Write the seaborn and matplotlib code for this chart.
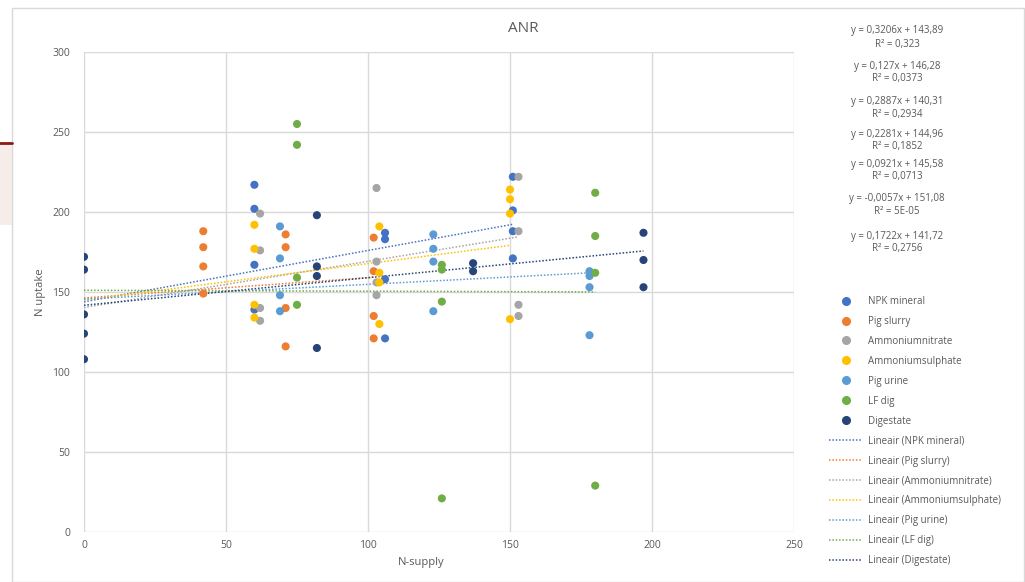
import numpy as np
import pandas as pd
import matplotlib
matplotlib.use("Agg")
import matplotlib.pyplot as plt
import matplotlib.patches as mpatches
from matplotlib.lines import Line2D
import seaborn as sns

series = ["NPK mineral", "Pig slurry", "Ammoniumnitrate", "Ammoniumsulphate",
          "Pig urine", "LF dig", "Digestate"]
colors = ["#4472C4", "#ED7D31", "#A5A5A5", "#FFC000", "#5B9BD5", "#70AD47", "#264478"]

npk_x = [60, 60, 60, 60, 106, 106, 106, 106, 151, 151, 151, 151]
npk_y = [217, 202, 167, 139, 187, 183, 158, 121, 222, 201, 188, 171]
slurry_x = [42, 42, 42, 42, 71, 71, 71, 71, 102, 102, 102, 102]
slurry_y = [188, 178, 166, 149, 186, 178, 140, 116, 184, 163, 135, 121]
an_x = [62, 62, 62, 62, 103, 103, 103, 103, 153, 153, 153, 153]
an_y = [199, 176, 140, 132, 215, 169, 156, 148, 222, 188, 142, 135]
as_x = [60, 60, 60, 60, 104, 104, 104, 104, 150, 150, 150, 150]
as_y = [192, 177, 142, 134, 191, 162, 156, 130, 214, 208, 199, 133]
urine_x = [69, 69, 69, 69, 123, 123, 123, 123, 178, 178, 178, 178]
urine_y = [191, 171, 148, 138, 186, 177, 169, 138, 163, 160, 153, 123]
lf_x = [75, 75, 75, 75, 126, 126, 126, 126, 180, 180, 180, 180]
lf_y = [255, 242, 159, 142, 167, 164, 144, 21, 212, 185, 162, 29]
dig_x = [0, 0, 0, 0, 0, 82, 82, 82, 82, 137, 137, 197, 197, 197]
dig_y = [172, 164, 136, 124, 108, 198, 166, 160, 115, 168, 163, 187, 170, 153]

# trendlijnen uit Excel
slopes = [0.3206, 0.127, 0.2887, 0.2281, 0.0921, -0.0057, 0.1722]
intercepts = [143.89, 146.28, 140.31, 144.96, 145.58, 151.08, 141.72]
r2_labels = ["0,323", "0,0373", "0,2934", "0,1852", "0,0713", "5E-05", "0,2756"]

xs = [npk_x, slurry_x, an_x, as_x, urine_x, lf_x, dig_x]
ys = [npk_y, slurry_y, an_y, as_y, urine_y, lf_y, dig_y]

df = pd.concat([pd.DataFrame({"x": x, "y": y, "serie": s})
                for x, y, s in zip(xs, ys, series)], ignore_index=True)

sns.set_style("white")
plt.rcParams["font.family"] = ["Open Sans", "DejaVu Sans"]
txt = "#595959"

fig = plt.figure(figsize=(10.25, 5.82), dpi=100)
ax = fig.add_axes([84 / 1025, 1 - 532 / 582, 710 / 1025, 480 / 582])

# trendlijnen van 0 tot max x
for i, s in enumerate(series):
    xmax = max(xs[i])
    tl = pd.DataFrame({"x": [0, xmax],
                       "y": [intercepts[i], intercepts[i] + slopes[i] * xmax]})
    sns.lineplot(data=tl, x="x", y="y", ax=ax, color=colors[i], lw=1.1,
                 linestyle=(0, (1, 1.2)), zorder=2)

sns.scatterplot(data=df, x="x", y="y", hue="serie", palette=colors, s=34,
                edgecolor="none", ax=ax, legend=False, zorder=3)

ax.set_xlim(0, 250)
ax.set_ylim(0, 300)
ax.set_xticks(range(0, 251, 50))
ax.set_yticks(range(0, 301, 50))
ax.grid(True, color="#D9D9D9", lw=1)
for sp in ax.spines.values():
    sp.set_visible(False)
ax.tick_params(length=0, labelsize=7.5, colors=txt)
ax.tick_params(axis="y", pad=10)
ax.tick_params(axis="x", pad=6)
ax.set_xlabel("")
ax.set_ylabel("")

fig.text(523 / 1025, 1 - 28 / 582, "ANR", ha="center", va="center", fontsize=11, color=txt)
fig.text(421 / 1025, 1 - 563 / 582, "N-supply", ha="center", va="center", fontsize=8, color=txt)
fig.text(40 / 1025, 1 - 292 / 582, "N uptake", ha="center", va="center", fontsize=8,
         color=txt, rotation=90)

# vergelijkingen
eq_y = [31, 66, 101, 134, 164, 199, 236]
for i in range(len(series)):
    eq = "y = " + str(slopes[i]).replace(".", ",") + "x + " + str(intercepts[i]).replace(".", ",")
    fig.text(897 / 1025, 1 - eq_y[i] / 582, eq, ha="center", va="center", fontsize=7, color=txt)
    fig.text(897 / 1025, 1 - (eq_y[i] + 13) / 582, "R² = " + r2_labels[i], ha="center",
             va="center", fontsize=7, color=txt)

# legenda
handles = []
labels = []
for s, c in zip(series, colors):
    handles.append(Line2D([], [], marker="o", ls="none", color=c, markersize=5.5))
    labels.append(s)
for s, c in zip(series, colors):
    handles.append(Line2D([], [], ls=(0, (1, 1.2)), color=c, lw=1.1))
    labels.append("Lineair (" + s + ")")
leg = fig.legend(handles, labels, loc="upper left", bbox_to_anchor=(829 / 1025, 1 - 296 / 582),
                 frameon=False, fontsize=7, labelspacing=0.92, handlelength=3.4,
                 handletextpad=0.6, borderpad=0, borderaxespad=0)
for t in leg.get_texts():
    t.set_color(txt)

# kader en restje van de dia
fig.add_artist(mpatches.Rectangle((12 / 1025, 0), 1012 / 1025, 1 - 8 / 582,
                                  transform=fig.transFigure, fill=False,
                                  edgecolor="#D9D9D9", lw=1))
fig.add_artist(mpatches.Rectangle((0, 1 - 225 / 582), 12 / 1025, 82 / 582,
                                  transform=fig.transFigure, color="#F6EDEB", lw=0))
fig.add_artist(Line2D([0, 12 / 1025], [1 - 143 / 582, 1 - 143 / 582],
                      transform=fig.transFigure, color="#8B1A10", lw=2))

fig.savefig("out.png", dpi=100)
